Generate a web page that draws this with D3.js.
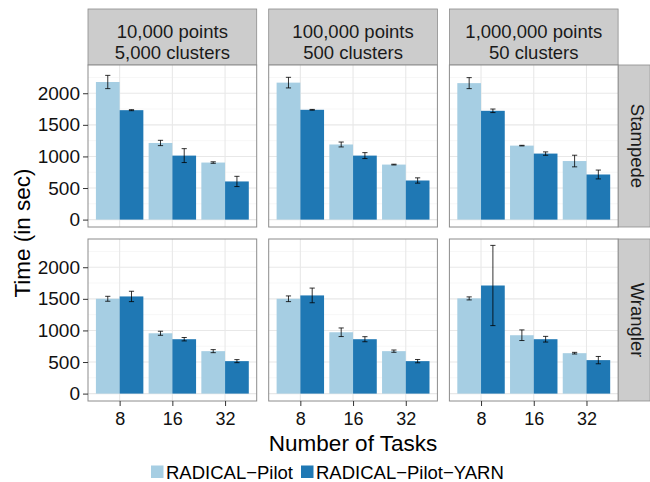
<!DOCTYPE html>
<html>
<head>
<meta charset="UTF-8">
<title>Time per task count</title>
<style>
  body { margin: 0; background: #fff; }
  text { font-family: "Liberation Sans", Arial, sans-serif; }
</style>
</head>
<body>
<div id="chart"></div>
<script src="https://cdn.jsdelivr.net/npm/d3@7/dist/d3.min.js"></script>
<script>
// categories and labels
var tasks = ["8", "16", "32"];
var series = ["RADICAL\u2212Pilot", "RADICAL\u2212Pilot\u2212YARN"];
var machines = ["Stampede", "Wrangler"];
var stripLine1 = ["10,000 points", "100,000 points", "1,000,000 points"];
var stripLine2 = ["5,000 clusters", "500 clusters", "50 clusters"];
var yTicks = [0, 500, 1000, 1500, 2000];

// mean times (sec), one row per column panel, values for 8/16/32 tasks
var stampedePilot = [[2178, 1213, 903], [2168, 1189, 871], [2160, 1171, 927]];
var stampedePilotErr = [[105, 42, 12], [84, 39, 6], [87, 5, 92]];
var stampedeYarn = [[1732, 1013, 604], [1738, 1013, 619], [1722, 1045, 714]];
var stampedeYarnErr = [[8, 110, 81], [6, 47, 42], [28, 27, 70]];
var wranglerPilot = [[1501, 955, 672], [1501, 971, 672], [1507, 924, 640]];
var wranglerPilotErr = [[39, 32, 24], [45, 68, 18], [24, 84, 13]];
var wranglerYarn = [[1538, 861, 514], [1554, 861, 514], [1711, 861, 530]];
var wranglerYarnErr = [[82, 27, 24], [116, 40, 26], [635, 45, 58]];

var colors = ["#a6cee3", "#1f78b4"];

var means = { Stampede: [stampedePilot, stampedeYarn], Wrangler: [wranglerPilot, wranglerYarn] };
var errs = { Stampede: [stampedePilotErr, stampedeYarnErr], Wrangler: [wranglerPilotErr, wranglerYarnErr] };

var width = 650, height = 482;
var marginLeft = 88, marginTop = 65, pw = 168.7, ph = 162, gap = 12;
var stripH = 56, stripW = 32;
var FONT = "'Liberation Sans', Arial, sans-serif";

var svg = d3.select("#chart").append("svg")
    .attr("width", width).attr("height", height);

var x = d3.scalePoint().domain(tasks).range([0, pw]).padding(0.6);
var step = x.step();
var xs = d3.scaleBand().domain(series).range([-0.45 * step, 0.45 * step]);
var y = d3.scaleLinear().domain([-117, 2447]).range([ph, 0]);
var minor = [250, 750, 1250, 1750, 2250];

// top strips
stripLine1.forEach(function (t, c) {
    var g = svg.append("g").attr("transform", "translate(" + (marginLeft + c * (pw + gap)) + "," + (marginTop - stripH) + ")");
    g.append("rect").attr("width", pw).attr("height", stripH)
        .attr("fill", "#cccccc").attr("stroke", "#8c8c8c").attr("stroke-width", 0.8);
    g.append("text").attr("x", pw / 2).attr("y", 28.5).attr("text-anchor", "middle")
        .attr("font-size", 18.5).attr("fill", "#1a1a1a").text(t);
    g.append("text").attr("x", pw / 2).attr("y", 50).attr("text-anchor", "middle")
        .attr("font-size", 18.5).attr("fill", "#1a1a1a").text(stripLine2[c]);
});

machines.forEach(function (m, r) {
    var py = marginTop + r * (ph + gap);

    // right strip
    var sg = svg.append("g").attr("transform", "translate(" + (marginLeft + 3 * pw + 2 * gap) + "," + py + ")");
    sg.append("rect").attr("width", stripW).attr("height", ph)
        .attr("fill", "#cccccc").attr("stroke", "#8c8c8c").attr("stroke-width", 0.8);
    sg.append("text").attr("transform", "translate(12.5," + (ph / 2) + ") rotate(90)")
        .attr("text-anchor", "middle").attr("font-size", 18.5).attr("fill", "#1a1a1a").text(m);

    for (var c = 0; c < 3; c++) {
        var g = svg.append("g").attr("transform", "translate(" + (marginLeft + c * (pw + gap)) + "," + py + ")");
        g.append("rect").attr("width", pw).attr("height", ph).attr("fill", "#fff");

        // grid
        g.selectAll(".minor").data(minor).join("line")
            .attr("x1", 0).attr("x2", pw).attr("y1", y).attr("y2", y)
            .attr("stroke", "#f7f7f7").attr("stroke-width", 1);
        g.selectAll(".major").data(yTicks).join("line")
            .attr("x1", 0).attr("x2", pw).attr("y1", y).attr("y2", y)
            .attr("stroke", "#e8e8e8").attr("stroke-width", 1.1);
        g.selectAll(".vmajor").data(tasks).join("line")
            .attr("x1", x).attr("x2", x).attr("y1", 0).attr("y2", ph)
            .attr("stroke", "#e8e8e8").attr("stroke-width", 1.1);

        var rows = [];
        series.forEach(function (s, si) {
            tasks.forEach(function (t, ti) {
                rows.push({ s: s, si: si, t: t, v: means[m][si][c][ti], e: errs[m][si][c][ti] });
            });
        });

        g.selectAll(".bar").data(rows).join("rect")
            .attr("x", function (d) { return x(d.t) + xs(d.s); })
            .attr("width", xs.bandwidth())
            .attr("y", function (d) { return y(d.v); })
            .attr("height", function (d) { return y(0) - y(d.v); })
            .attr("fill", function (d) { return colors[d.si]; });

        var cap = 2.6;
        var cx = function (d) { return x(d.t) + xs(d.s) + xs.bandwidth() / 2; };
        var eb = g.selectAll(".err").data(rows).join("g")
            .attr("stroke", "#000").attr("stroke-opacity", 0.8).attr("stroke-width", 1);
        eb.append("line")
            .attr("x1", cx).attr("x2", cx)
            .attr("y1", function (d) { return y(d.v + d.e); })
            .attr("y2", function (d) { return y(d.v - d.e); });
        [1, -1].forEach(function (sgn) {
            eb.append("line")
                .attr("x1", function (d) { return cx(d) - cap; })
                .attr("x2", function (d) { return cx(d) + cap; })
                .attr("y1", function (d) { return y(d.v + sgn * d.e); })
                .attr("y2", function (d) { return y(d.v + sgn * d.e); });
        });

        g.append("rect").attr("width", pw).attr("height", ph)
            .attr("fill", "none").attr("stroke", "#8c8c8c").attr("stroke-width", 1);

        if (c === 0) {
            var ya = g.append("g").call(d3.axisLeft(y).tickValues(yTicks)
                .tickFormat(d3.format("d")).tickSize(5).tickPadding(3));
            ya.attr("font-family", FONT);
            ya.select(".domain").remove();
            ya.selectAll("line").attr("stroke", "#333");
            ya.selectAll("text").attr("font-size", 19).attr("fill", "#111");
        }
        if (r === 1) {
            var xa = g.append("g").attr("transform", "translate(0," + ph + ")")
                .call(d3.axisBottom(x).tickSize(5).tickPadding(6.5));
            xa.attr("font-family", FONT);
            xa.select(".domain").remove();
            xa.selectAll("line").attr("stroke", "#333");
            xa.selectAll("text").attr("font-size", 18).attr("fill", "#111");
        }
    }
});

// axis titles
var plotMid = marginLeft + (3 * pw + 2 * gap) / 2;
svg.append("text").attr("x", plotMid).attr("y", 451).attr("text-anchor", "middle")
    .attr("font-size", 22.5).attr("fill", "#000").text("Number of Tasks");
svg.append("text").attr("transform", "translate(30," + (marginTop + ph + gap / 2) + ") rotate(-90)")
    .attr("text-anchor", "middle").attr("font-size", 22.5).attr("fill", "#000").text("Time (in sec)");

// legend
var legend = svg.append("g").attr("transform", "translate(0,472)");
var lx = [151, 301];
series.forEach(function (s, i) {
    legend.append("rect").attr("x", lx[i]).attr("y", -6.5).attr("width", 12.5).attr("height", 12.5)
        .attr("fill", colors[i]);
    legend.append("text").attr("x", lx[i] + 15).attr("y", 6.5)
        .attr("font-size", 18.5).attr("fill", "#000").text(s);
});
</script>
</body>
</html>
